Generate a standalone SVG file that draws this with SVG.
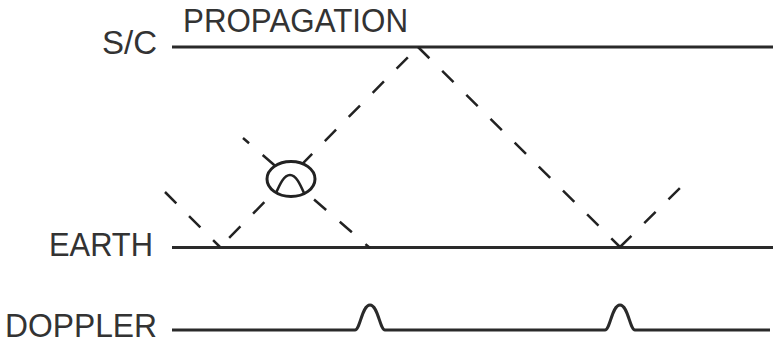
<svg xmlns="http://www.w3.org/2000/svg" width="773" height="352" viewBox="0 0 773 352">
<style>
text{font-family:"Liberation Sans",Arial,sans-serif;font-size:33px;fill:#333}
.solid{stroke:#2a2a2a;stroke-width:3;fill:none}
.dash{stroke:#222;stroke-width:2.5;fill:none;stroke-dasharray:16 18}
</style>
<rect width="773" height="352" fill="#fff"/>
<g id="labels">
<text id="t-prop" x="183" y="32" textLength="225" lengthAdjust="spacingAndGlyphs">PROPAGATION</text>
<text id="t-sc" x="102" y="54" textLength="55" lengthAdjust="spacingAndGlyphs">S/C</text>
<text id="t-earth" x="49" y="256" textLength="104" lengthAdjust="spacingAndGlyphs">EARTH</text>
<text id="t-doppler" x="5" y="337" textLength="152" lengthAdjust="spacingAndGlyphs">DOPPLER</text>
</g>
<g id="sc-line"><line class="solid" x1="172" y1="47" x2="773" y2="47"/></g>
<g id="earth-line"><line class="solid" x1="172" y1="247.5" x2="773" y2="247.5"/></g>
<g id="doppler-line"><path class="solid" d="M172 330 H355 C360 330 362 305 370 305 C378 305 380 330 385 330 H605 C610 330 612 305 620 305 C628 305 630 330 635 330 H770"/></g>
<g id="connectors">
<line class="dash" x1="165" y1="192" x2="220" y2="247"/>
<line class="dash" x1="220" y1="247" x2="418" y2="47" stroke-dashoffset="21"/>
<line class="dash" x1="418" y1="47" x2="620" y2="247"/>
<line class="dash" x1="620" y1="247" x2="685" y2="183"/>
<line class="dash" x1="370" y1="248" x2="243" y2="138" stroke-dashoffset="10"/>
</g>
<g id="crossing">
<ellipse cx="291" cy="179" rx="24" ry="17.5" fill="#fff" stroke="#222" stroke-width="3"/>
<path d="M276 193 C280 184 284 175 290 175 C296 175 300 184 304 193" fill="none" stroke="#222" stroke-width="2.6"/>
</g>
</svg>
